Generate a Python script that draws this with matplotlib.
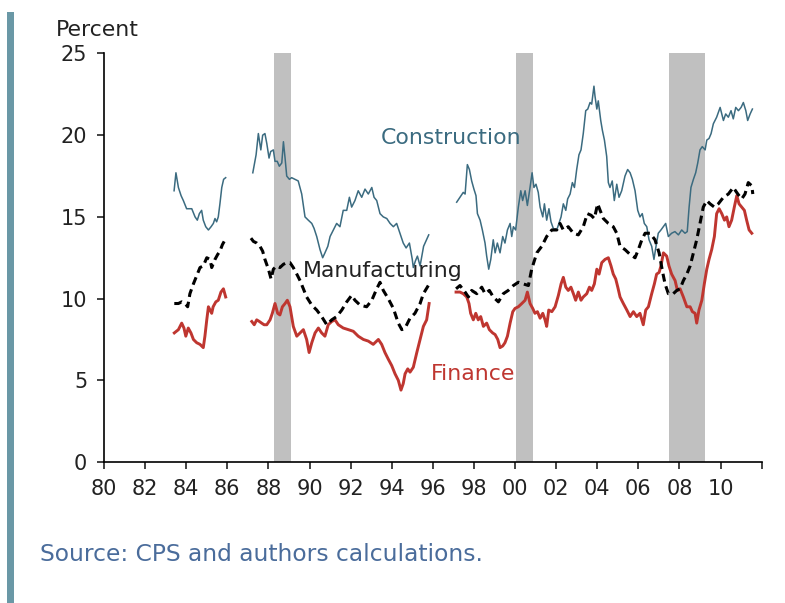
import matplotlib
matplotlib.use("Agg")
import matplotlib.pyplot as plt
from matplotlib.patches import Rectangle

# Series, as (year, percent) pairs; one list per unbroken stretch
construction_1 = [(1983.41, 16.6), (1983.50, 17.7), (1983.62, 16.8), (1983.75, 16.3), (1983.86, 16.0),
                  (1984.02, 15.5), (1984.27, 15.5), (1984.43, 15.0), (1984.54, 14.8), (1984.64, 15.2),
                  (1984.75, 15.4), (1984.83, 14.8), (1984.95, 14.4), (1985.08, 14.2), (1985.21, 14.4),
                  (1985.32, 14.6), (1985.40, 14.9), (1985.48, 14.7), (1985.56, 15.0), (1985.64, 15.8),
                  (1985.73, 16.8), (1985.82, 17.3), (1985.92, 17.4)]
construction_2 = [(1987.24, 17.7), (1987.40, 18.8), (1987.51, 20.1), (1987.63, 19.1), (1987.72, 20.0),
                  (1987.83, 20.1), (1987.92, 19.5), (1988.03, 18.6), (1988.11, 19.0), (1988.24, 19.1),
                  (1988.32, 18.4), (1988.43, 18.4), (1988.53, 18.1), (1988.65, 18.3), (1988.73, 19.6),
                  (1988.81, 18.6), (1988.89, 17.5), (1989.02, 17.3), (1989.13, 17.4), (1989.29, 17.3),
                  (1989.45, 17.2), (1989.62, 16.4), (1989.78, 15.0), (1989.94, 14.8), (1990.11, 14.6),
                  (1990.22, 14.3), (1990.35, 13.8), (1990.51, 13.0), (1990.64, 12.5), (1990.75, 12.8),
                  (1990.89, 13.2), (1991.00, 13.8), (1991.16, 14.2), (1991.32, 14.6), (1991.48, 14.4),
                  (1991.64, 15.4), (1991.81, 15.4), (1991.94, 16.2), (1992.05, 15.6), (1992.21, 16.0),
                  (1992.37, 16.6), (1992.54, 16.2), (1992.70, 16.7), (1992.86, 16.4), (1993.03, 16.8),
                  (1993.14, 16.2), (1993.27, 16.0), (1993.43, 15.2), (1993.59, 15.0), (1993.76, 14.9),
                  (1993.92, 14.6), (1994.08, 14.4), (1994.24, 14.6), (1994.40, 14.0), (1994.56, 13.4),
                  (1994.70, 13.1), (1994.86, 13.4), (1995.00, 12.4), (1995.05, 11.9), (1995.15, 12.3),
                  (1995.25, 12.6), (1995.38, 12.0), (1995.55, 13.2), (1995.80, 13.9)]
construction_3 = [(1997.16, 15.9), (1997.32, 16.2), (1997.48, 16.5), (1997.57, 16.4), (1997.68, 18.2),
                  (1997.78, 17.9), (1997.89, 17.2), (1998.00, 16.7), (1998.10, 16.3), (1998.17, 15.2),
                  (1998.30, 14.8), (1998.41, 14.2), (1998.54, 13.4), (1998.62, 12.6), (1998.72, 11.8),
                  (1998.82, 12.4), (1998.94, 13.6), (1999.03, 12.8), (1999.14, 13.4), (1999.27, 12.8),
                  (1999.40, 13.8), (1999.51, 13.4), (1999.63, 14.2), (1999.76, 14.6), (1999.84, 13.8),
                  (1999.92, 14.4), (2000.03, 14.2), (2000.16, 15.6), (2000.28, 16.6), (2000.37, 16.0),
                  (2000.49, 16.6), (2000.60, 15.7), (2000.73, 16.8), (2000.83, 17.7), (2000.92, 16.8),
                  (2001.02, 17.0), (2001.13, 16.5), (2001.22, 15.6), (2001.35, 15.0), (2001.43, 15.8),
                  (2001.54, 14.8), (2001.65, 15.5), (2001.75, 14.7), (2001.86, 14.3), (2002.03, 14.2),
                  (2002.24, 15.0), (2002.35, 15.8), (2002.47, 15.4), (2002.56, 16.1), (2002.68, 16.4),
                  (2002.79, 17.1), (2002.89, 16.8), (2003.00, 17.9), (2003.11, 18.8), (2003.21, 19.1),
                  (2003.32, 20.1), (2003.44, 21.5), (2003.54, 21.6), (2003.65, 22.0), (2003.73, 21.9),
                  (2003.84, 23.0), (2003.89, 22.4), (2003.98, 21.6), (2004.05, 22.1), (2004.17, 20.9),
                  (2004.25, 20.3), (2004.35, 19.7), (2004.46, 18.7), (2004.54, 17.1), (2004.62, 16.8),
                  (2004.73, 17.2), (2004.83, 16.0), (2004.95, 17.0), (2005.06, 16.2), (2005.19, 16.6),
                  (2005.35, 17.5), (2005.48, 17.9), (2005.60, 17.7), (2005.71, 17.3), (2005.84, 16.6),
                  (2005.97, 15.4), (2006.08, 15.0), (2006.19, 15.2), (2006.29, 14.6), (2006.41, 14.4),
                  (2006.52, 13.6), (2006.65, 13.2), (2006.76, 12.4), (2006.86, 13.2), (2006.97, 14.0),
                  (2007.10, 14.2), (2007.33, 14.6), (2007.46, 13.8), (2007.62, 14.0), (2007.78, 14.1),
                  (2007.95, 13.9), (2008.11, 14.2), (2008.27, 14.0), (2008.38, 14.1), (2008.47, 15.6),
                  (2008.56, 16.8), (2008.68, 17.3), (2008.79, 17.7), (2008.89, 18.3), (2009.00, 19.1),
                  (2009.11, 19.3), (2009.25, 19.1), (2009.33, 19.7), (2009.44, 19.8), (2009.54, 20.1),
                  (2009.65, 20.7), (2009.81, 21.1), (2009.98, 21.7), (2010.14, 20.9), (2010.25, 21.3),
                  (2010.38, 21.1), (2010.51, 21.5), (2010.62, 21.0), (2010.74, 21.7), (2010.87, 21.5),
                  (2011.00, 21.7), (2011.11, 22.0), (2011.23, 21.5), (2011.32, 20.9), (2011.44, 21.3),
                  (2011.55, 21.6)]

manufacturing_1 = [(1983.42, 9.7), (1983.62, 9.7), (1983.78, 9.8), (1983.94, 9.7), (1984.07, 9.5),
                   (1984.18, 10.3), (1984.35, 10.9), (1984.51, 11.4), (1984.67, 11.9), (1984.83, 12.0),
                   (1985.00, 12.5), (1985.16, 12.4), (1985.24, 11.9), (1985.40, 12.4), (1985.53, 12.7),
                   (1985.64, 12.9), (1985.76, 13.3), (1985.89, 13.6)]
manufacturing_2 = [(1987.15, 13.7), (1987.27, 13.5), (1987.43, 13.4), (1987.59, 13.2), (1987.72, 12.9),
                   (1987.83, 12.4), (1988.00, 11.8), (1988.13, 11.2), (1988.24, 11.8), (1988.40, 12.0),
                   (1988.56, 11.9), (1988.73, 12.1), (1988.89, 12.2), (1989.05, 12.2), (1989.21, 11.9),
                   (1989.38, 11.5), (1989.54, 11.1), (1989.70, 10.6), (1989.86, 10.1), (1990.11, 9.6),
                   (1990.35, 9.3), (1990.59, 8.9), (1990.84, 8.4), (1991.08, 8.7), (1991.32, 8.9),
                   (1991.57, 9.3), (1991.81, 9.8), (1992.05, 10.2), (1992.21, 9.9), (1992.46, 9.6),
                   (1992.78, 9.5), (1993.03, 9.9), (1993.27, 10.6), (1993.43, 11.0), (1993.59, 10.5),
                   (1993.83, 10.0), (1994.08, 9.4), (1994.32, 8.5), (1994.49, 8.1), (1994.65, 8.2),
                   (1994.89, 8.8), (1995.13, 9.1), (1995.38, 9.7), (1995.54, 10.3), (1995.78, 10.8)]
manufacturing_3 = [(1997.13, 10.6), (1997.32, 10.8), (1997.57, 10.4), (1997.73, 10.1), (1997.89, 10.5),
                   (1998.14, 10.3), (1998.38, 10.7), (1998.54, 10.3), (1998.75, 10.5), (1998.94, 10.1),
                   (1999.19, 9.8), (1999.43, 10.3), (1999.67, 10.5), (1999.92, 10.8), (2000.16, 11.0),
                   (2000.40, 10.9), (2000.65, 10.8), (2000.81, 11.8), (2001.06, 12.8), (2001.30, 13.2),
                   (2001.54, 13.8), (2001.79, 14.2), (2002.03, 14.2), (2002.19, 14.6), (2002.35, 14.2),
                   (2002.59, 14.4), (2002.84, 14.0), (2003.08, 13.9), (2003.32, 14.4), (2003.52, 15.2),
                   (2003.70, 15.1), (2003.86, 14.9), (2004.02, 15.8), (2004.14, 15.4), (2004.30, 14.9),
                   (2004.54, 14.6), (2004.78, 14.4), (2004.95, 14.0), (2005.11, 13.2), (2005.35, 13.0),
                   (2005.60, 12.7), (2005.84, 12.5), (2006.00, 13.0), (2006.17, 13.6), (2006.33, 14.0),
                   (2006.57, 14.0), (2006.81, 13.6), (2007.01, 12.8), (2007.17, 11.7), (2007.30, 10.9),
                   (2007.46, 10.3), (2007.70, 10.3), (2007.87, 10.5), (2008.03, 10.6), (2008.19, 11.1),
                   (2008.36, 11.5), (2008.52, 12.0), (2008.68, 12.8), (2008.84, 13.6), (2009.00, 14.6),
                   (2009.16, 15.6), (2009.33, 16.0), (2009.49, 15.8), (2009.70, 15.6), (2009.89, 15.8),
                   (2010.14, 16.2), (2010.38, 16.4), (2010.62, 16.8), (2010.84, 16.4), (2011.03, 16.1),
                   (2011.19, 16.4), (2011.35, 17.1), (2011.52, 16.9), (2011.57, 16.4)]

finance_1 = [(1983.42, 7.9), (1983.62, 8.1), (1983.78, 8.5), (1983.89, 8.2), (1983.98, 7.7),
             (1984.10, 8.2), (1984.23, 7.9), (1984.35, 7.5), (1984.51, 7.3), (1984.67, 7.2),
             (1984.83, 7.0), (1984.91, 7.7), (1985.00, 8.7), (1985.08, 9.5), (1985.24, 9.1),
             (1985.31, 9.5), (1985.44, 9.8), (1985.56, 9.9), (1985.69, 10.4), (1985.81, 10.6),
             (1985.92, 10.1)]
finance_2 = [(1987.19, 8.6), (1987.31, 8.4), (1987.43, 8.7), (1987.56, 8.6), (1987.67, 8.5),
             (1987.79, 8.4), (1987.92, 8.4), (1988.08, 8.7), (1988.19, 9.1), (1988.32, 9.7),
             (1988.45, 9.1), (1988.56, 9.0), (1988.68, 9.5), (1988.81, 9.7), (1988.92, 9.9),
             (1989.05, 9.5), (1989.21, 8.3), (1989.38, 7.7), (1989.54, 7.9), (1989.70, 8.1),
             (1989.86, 7.5), (1989.98, 6.7), (1990.11, 7.3), (1990.27, 7.9), (1990.43, 8.2),
             (1990.59, 7.9), (1990.75, 7.7), (1990.91, 8.4), (1991.08, 8.6), (1991.24, 8.7),
             (1991.40, 8.4), (1991.64, 8.2), (1991.89, 8.1), (1992.13, 8.0), (1992.37, 7.7),
             (1992.62, 7.5), (1992.86, 7.4), (1993.10, 7.2), (1993.35, 7.5), (1993.51, 7.2),
             (1993.67, 6.7), (1993.83, 6.3), (1994.00, 5.9), (1994.16, 5.4), (1994.32, 5.0),
             (1994.45, 4.4), (1994.56, 4.8), (1994.65, 5.4), (1994.78, 5.7), (1994.89, 5.5),
             (1995.05, 5.8), (1995.22, 6.7), (1995.38, 7.5), (1995.54, 8.3), (1995.70, 8.7),
             (1995.82, 9.7)]
finance_3 = [(1997.13, 10.4), (1997.32, 10.4), (1997.48, 10.3), (1997.65, 10.1), (1997.76, 9.7),
             (1997.84, 9.1), (1997.97, 8.7), (1998.09, 9.1), (1998.21, 8.7), (1998.33, 8.9),
             (1998.46, 8.3), (1998.62, 8.5), (1998.75, 8.1), (1998.91, 7.9), (1999.03, 7.8),
             (1999.16, 7.5), (1999.27, 7.0), (1999.40, 7.1), (1999.51, 7.3), (1999.63, 7.7),
             (1999.76, 8.5), (1999.89, 9.2), (2000.00, 9.4), (2000.16, 9.5), (2000.33, 9.7),
             (2000.49, 9.9), (2000.60, 10.4), (2000.73, 9.7), (2000.86, 9.4), (2000.97, 9.1),
             (2001.09, 9.2), (2001.22, 8.8), (2001.35, 9.1), (2001.46, 8.7), (2001.54, 8.3),
             (2001.64, 9.3), (2001.79, 9.2), (2001.95, 9.5), (2002.11, 10.2), (2002.24, 10.9),
             (2002.35, 11.3), (2002.47, 10.7), (2002.59, 10.5), (2002.72, 10.7), (2002.84, 10.3),
             (2002.95, 9.9), (2003.08, 10.4), (2003.21, 9.9), (2003.32, 10.1), (2003.49, 10.3),
             (2003.62, 10.7), (2003.73, 10.5), (2003.86, 10.9), (2003.98, 11.8), (2004.09, 11.5),
             (2004.22, 12.2), (2004.38, 12.4), (2004.54, 12.5), (2004.67, 12.0), (2004.78, 11.5),
             (2004.90, 11.2), (2005.00, 10.7), (2005.11, 10.1), (2005.27, 9.7), (2005.44, 9.3),
             (2005.60, 8.9), (2005.76, 9.2), (2005.92, 8.9), (2006.08, 9.1), (2006.24, 8.4),
             (2006.36, 9.3), (2006.49, 9.5), (2006.65, 10.3), (2006.78, 10.9), (2006.89, 11.5),
             (2007.01, 11.6), (2007.10, 12.0), (2007.22, 12.8), (2007.38, 12.6), (2007.49, 12.0),
             (2007.62, 11.5), (2007.79, 11.1), (2007.90, 10.5), (2008.03, 10.6), (2008.19, 10.1),
             (2008.36, 9.5), (2008.52, 9.5), (2008.63, 9.2), (2008.76, 9.1), (2008.84, 8.5),
             (2008.95, 9.3), (2009.09, 9.9), (2009.21, 10.9), (2009.33, 11.8), (2009.44, 12.4),
             (2009.57, 13.0), (2009.70, 13.8), (2009.81, 15.2), (2009.93, 15.5), (2010.06, 15.2),
             (2010.19, 14.8), (2010.30, 15.0), (2010.41, 14.4), (2010.54, 14.8), (2010.67, 15.6),
             (2010.79, 16.3), (2010.90, 15.8), (2011.03, 15.6), (2011.16, 15.4), (2011.27, 14.8),
             (2011.39, 14.2), (2011.52, 14.0)]

# shaded recession bands (start, end)
recessions = [(1988.27, 1989.10), (2000.05, 2000.89), (2007.47, 2009.26)]

x_ticks = list(range(1980, 2013, 2))
x_labels = ["80", "82", "84", "86", "88", "90", "92", "94", "96", "98",
            "00", "02", "04", "06", "08", "10", ""]
y_ticks = [0, 5, 10, 15, 20, 25]

teal = "#3b6b80"
red = "#bf3630"
plt.rcParams["font.family"] = ["DejaVu Sans"]

fig = plt.figure(figsize=(7.85, 6.03), dpi=100)
ax = fig.add_axes([0.1325, 0.2338, 0.8388, 0.6775])

for start, end in recessions:
    ax.axvspan(start, end, color="#c0c0c0", lw=0, zorder=1)

def draw(segments, **kw):
    for seg in segments:
        yrs = [p[0] for p in seg]
        vals = [p[1] for p in seg]
        ax.plot(yrs, vals, **kw)

draw([construction_1, construction_2, construction_3], color=teal, lw=1.1, zorder=3)
draw([finance_1, finance_2, finance_3], color=red, lw=2.1, zorder=3)
draw([manufacturing_1, manufacturing_2, manufacturing_3], color="black", lw=2.2,
     linestyle=(0, (2.6, 1.6)), zorder=4)

ax.text(1993.45, 19.8, "Construction", color=teal, fontsize=15.8, va="center", zorder=5)
ax.text(1989.7, 11.7, "Manufacturing", color="#222222", fontsize=15.8, va="center", zorder=5)
ax.text(1995.9, 5.4, "Finance", color=red, fontsize=15.8, va="center", zorder=5)

ax.set_xlim(1980, 2012.04)
ax.set_ylim(0, 25)
ax.set_xticks(x_ticks)
ax.set_xticklabels(x_labels)
ax.set_yticks(y_ticks)
for side in ["top", "right"]:
    ax.spines[side].set_visible(False)
for side in ["left", "bottom"]:
    ax.spines[side].set_linewidth(1.2)
ax.tick_params(direction="out", length=5, width=1.2, labelsize=15, colors="#222222")
ax.tick_params(axis="x", pad=7)
ax.tick_params(axis="y", pad=7)

fig.text(0.0713, 0.9408, "Percent", fontsize=15.8, color="#222222", va="baseline")
fig.text(0.051, 0.080, "Source: CPS and authors calculations.", fontsize=16.8,
         color="#4a6c9b", va="center")

# teal bar down the left edge
fig.add_artist(Rectangle((7 / 785, 0), 7 / 785, 1 - 12 / 603, transform=fig.transFigure,
                         color="#6a98a6", lw=0))

fig.savefig("out.png", dpi=100)
